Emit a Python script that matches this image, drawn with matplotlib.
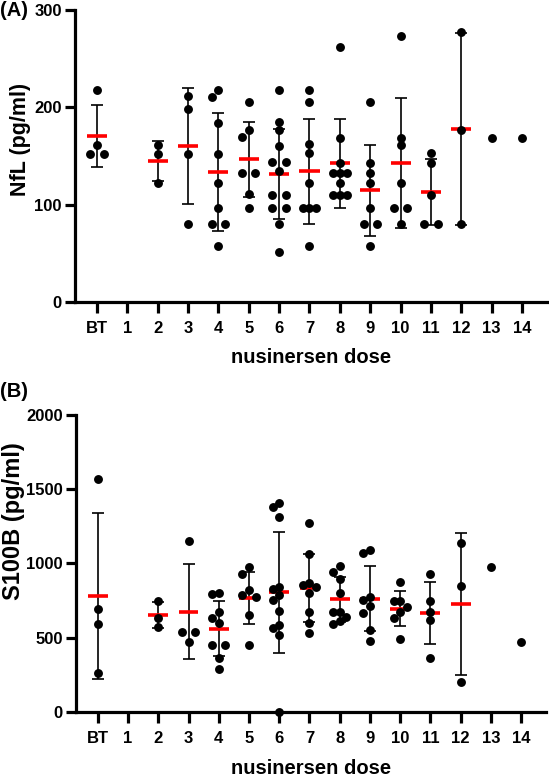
import numpy as np
import matplotlib
matplotlib.use("Agg")
import matplotlib.pyplot as plt

plt.rcParams['font.family'] = ['Liberation Sans', 'DejaVu Sans']
plt.rcParams['font.weight'] = 'bold'

categories = ['BT', '1', '2', '3', '4', '5', '6', '7', '8', '9', '10', '11', '12', '13', '14']

nfl_BT = [218, 161, 152, 152]
nfl_1 = []
nfl_2 = [161, 152, 122]
nfl_3 = [212, 198, 152, 80]
nfl_4 = [218, 211, 184, 152, 122, 97, 80, 80, 58]
nfl_5 = [205, 177, 170, 133, 133, 111, 97]
nfl_6 = [218, 185, 177, 160, 144, 144, 135, 110, 110, 97, 97, 80, 51]
nfl_7 = [218, 205, 162, 153, 122, 97, 97, 97, 58]
nfl_8 = [262, 169, 143, 133, 133, 133, 122, 110, 110, 110]
nfl_9 = [205, 143, 133, 122, 97, 80, 80, 58]
nfl_10 = [273, 169, 161, 122, 97, 97, 80]
nfl_11 = [153, 143, 110, 80, 80]
nfl_12 = [277, 177, 80]
nfl_13 = [169]
nfl_14 = [169]
nfl_groups = [nfl_BT, nfl_1, nfl_2, nfl_3, nfl_4, nfl_5, nfl_6, nfl_7,
              nfl_8, nfl_9, nfl_10, nfl_11, nfl_12, nfl_13, nfl_14]

s100b_BT = [1570, 692, 591, 263]
s100b_1 = []
s100b_2 = [746, 634, 573]
s100b_3 = [1152, 535, 535, 472]
s100b_4 = [802, 791, 674, 634, 596, 449, 449, 364, 286]
s100b_5 = [973, 926, 820, 786, 771, 652, 449]
s100b_6 = [1409, 1377, 1314, 838, 825, 786, 753, 681, 584, 562, 517, 0]
s100b_7 = [1269, 1063, 865, 854, 842, 800, 674, 596, 533]
s100b_8 = [982, 944, 892, 802, 674, 674, 640, 613, 591]
s100b_9 = [1090, 1072, 775, 753, 712, 663, 551, 478]
s100b_10 = [872, 746, 746, 708, 674, 629, 492]
s100b_11 = [926, 746, 674, 618, 360]
s100b_12 = [1135, 849, 202]
s100b_13 = [977]
s100b_14 = [472]
s100b_groups = [s100b_BT, s100b_1, s100b_2, s100b_3, s100b_4, s100b_5, s100b_6,
                s100b_7, s100b_8, s100b_9, s100b_10, s100b_11, s100b_12,
                s100b_13, s100b_14]

W, H = 549, 780
fig = plt.figure(figsize=(W / 100, H / 100), dpi=100)

XLIM = (-0.72, 14.82)


def swarm_offsets(vals, ax, step_px=6.7, diam_px=8.0):
    bbox = ax.get_window_extent()
    x0, x1 = ax.get_xlim()
    y0, y1 = ax.get_ylim()
    xpu = bbox.width / (x1 - x0)
    ypu = bbox.height / (y1 - y0)
    v = np.asarray(vals, float)
    order = np.argsort(-v, kind='stable')
    placed = []
    offs = np.zeros(len(vals))
    done = set()
    for i in order:
        if i in done:
            continue
        ypx = v[i] * ypu
        same = [j for j in range(len(v)) if v[j] == v[i]]
        near = [j for j in range(len(v)) if j not in same and abs(v[j] - v[i]) * ypu < diam_px]
        if len(same) == 2 and not near:
            for j, k in zip(same, [-1, 1]):
                placed.append((k * step_px, ypx))
                offs[j] = k * step_px / xpu
                done.add(j)
            continue
        for k in [0, -1, 1, -2, 2, -3, 3]:
            xo = k * step_px
            ok = True
            for (px, py) in placed:
                if abs(py - ypx) < diam_px * 0.95 and abs(px - xo) < step_px * 0.5:
                    ok = False
                    break
            if ok:
                placed.append((xo, ypx))
                offs[i] = xo / xpu
                done.add(i)
                break
    return offs


def panel(rect, groups, ylim, yticks, ylabel, ylabel_size, ylabel_xy, xlabel_y):
    ax = fig.add_axes(rect)
    ax.set_xlim(*XLIM)
    ax.set_ylim(*ylim)
    for sp in ['top', 'right']:
        ax.spines[sp].set_visible(False)
    for sp in ['left', 'bottom']:
        ax.spines[sp].set_linewidth(2.3)
        ax.spines[sp].set_zorder(5)
    ax.set_xticks(range(len(categories)))
    ax.set_xticklabels(categories, fontsize=12, fontweight='bold')
    ax.set_yticks(yticks)
    ax.set_yticklabels([str(t) for t in yticks], fontsize=12, fontweight='bold')
    ax.tick_params(axis='x', width=2.3, length=8, pad=6)
    ax.tick_params(axis='y', width=2.3, length=7.5, pad=2)
    ax.set_xlabel('nusinersen dose', fontsize=14.5, fontweight='bold')
    ax.xaxis.set_label_coords(0.5, xlabel_y)
    ax.xaxis.label.set_va('top')
    ax.set_ylabel(ylabel, fontsize=ylabel_size, fontweight='bold')
    ax.yaxis.set_label_coords(*ylabel_xy)
    for i, vals in enumerate(groups):
        if len(vals) == 0:
            continue
        v = np.asarray(vals, float)
        if len(v) > 1:
            m = v.mean()
            sd = v.std(ddof=1)
            ax.errorbar([i], [m], yerr=[sd], fmt='none', ecolor='black',
                        elinewidth=1.2, capsize=4.6, capthick=1.2, zorder=2)
            ax.hlines(m, i - 0.33, i + 0.33, colors='#ff0000', linewidth=2.6, zorder=3)
        offs = swarm_offsets(vals, ax)
        ax.plot(i + offs, v, 'o', color='black', markersize=6.4, zorder=4,
                clip_on=False, markeredgewidth=0)
    return ax


axA = panel([75 / W, 1 - 302 / H, (547 - 75) / W, 292 / H], nfl_groups,
            (0, 300), [0, 100, 200, 300], 'NfL (pg/ml)', 15.5,
            (-0.093, 0.558), -0.158)
axB = panel([76 / W, 1 - 711.7 / H, (546 - 76) / W, (711.7 - 415) / H], s100b_groups,
            (0, 2000), [0, 500, 1000, 1500, 2000], 'S100B (pg/ml)', 17,
            (-0.108, 0.643), -0.158)

fig.text(0 / W, 1 - 1 / H, '(A)', fontsize=14.5, fontweight='bold', va='top', ha='left')
fig.text(0 / W, 1 - 382 / H, '(B)', fontsize=14.5, fontweight='bold', va='top', ha='left')

fig.savefig('out.png', dpi=100)
